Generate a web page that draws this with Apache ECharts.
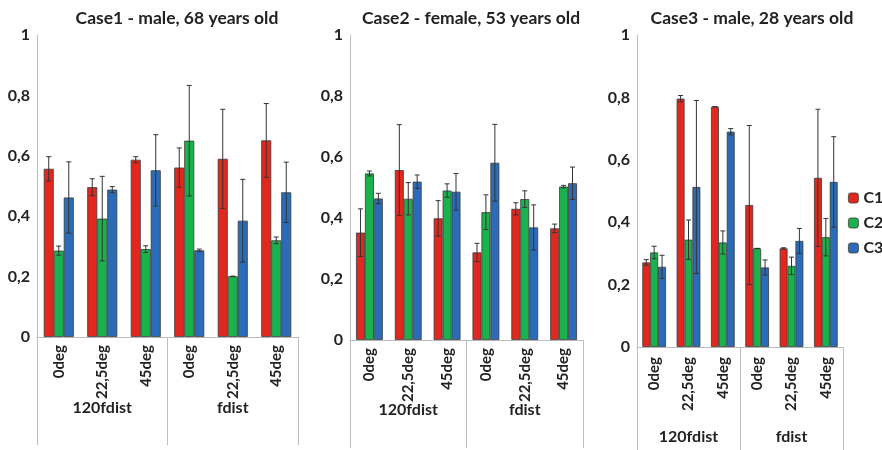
<!DOCTYPE html>
<html><head><meta charset="utf-8">
<script src="https://cdn.jsdelivr.net/npm/echarts@6/dist/echarts.min.js"></script>
<style>html,body{margin:0;padding:0;background:#fff}#c{width:882px;height:450px}</style>
</head><body><div id="c"></div>
<script>
const categories = ['0deg','22,5deg','45deg','0deg','22,5deg','45deg'];
const groups = ['120fdist','fdist'];
const titles = ['Case1 - male, 68 years old','Case2 - female, 53 years old','Case3 - male, 28 years old'];
const seriesNames = ['C1','C2','C3'];
const yTicks = [0,0.2,0.4,0.6,0.8,1];

const case1C1 = [0.557,0.496,0.587,0.561,0.590,0.651];
const case1C2 = [0.286,0.392,0.291,0.650,0.201,0.320];
const case1C3 = [0.462,0.488,0.552,0.287,0.385,0.479];
const case1C1Err = [0.040,0.028,0.010,0.065,0.164,0.122];
const case1C2Err = [0.015,0.140,0.011,0.183,0.000,0.011];
const case1C3Err = [0.118,0.010,0.118,0.004,0.137,0.100];

const case2C1 = [0.352,0.557,0.399,0.287,0.430,0.366];
const case2C2 = [0.546,0.463,0.490,0.419,0.462,0.503];
const case2C3 = [0.464,0.519,0.486,0.581,0.369,0.514];
const case2C1Err = [0.078,0.149,0.058,0.030,0.020,0.014];
const case2C2Err = [0.008,0.053,0.022,0.057,0.027,0.004];
const case2C3Err = [0.017,0.022,0.060,0.126,0.074,0.053];

const case3C1 = [0.271,0.796,0.770,0.455,0.316,0.542];
const case3C2 = [0.303,0.344,0.335,0.316,0.260,0.352];
const case3C3 = [0.257,0.513,0.690,0.255,0.340,0.529];
const case3C1Err = [0.009,0.010,0.000,0.255,0.002,0.220];
const case3C2Err = [0.020,0.063,0.037,0.000,0.028,0.060];
const case3C3Err = [0.037,0.277,0.010,0.024,0.040,0.145];

const colors = ['#e2271f','#1bb24d','#2b6cb9'];
const FONT = 'Lato';
const BAR_FRAC = 0.23;

const panels = [
  {vals:[case1C1,case1C2,case1C3], errs:[case1C1Err,case1C2Err,case1C3Err], left:37, width:261, top:35, height:302, tick:108, gmargin:63, cmargin:8, tx:177},
  {vals:[case2C1,case2C2,case2C3], errs:[case2C1Err,case2C2Err,case2C3Err], left:350, width:233, top:35, height:305, tick:108, gmargin:62, cmargin:8, tx:471},
  {vals:[case3C1,case3C2,case3C3], errs:[case3C1Err,case3C2Err,case3C3Err], left:637, width:206, top:35, height:312, tick:104, gmargin:82, cmargin:10, tx:752}
];

const grid = [], xAxis = [], yAxis = [], series = [], graphic = [];
const axisColor = '#bdbdbd';

panels.forEach((p, k) => {
  grid.push({left:p.left, top:p.top, width:p.width, height:p.height, containLabel:false});
  graphic.push({type:'text', x:p.tx, y:9, style:{text:titles[k], textAlign:'center', textVerticalAlign:'top',
    fontFamily:FONT, fontWeight:'bold', fontSize:17.5, fill:'#222'}});
  xAxis.push({type:'category', gridIndex:k, data:categories, position:'bottom',
    axisLine:{show:true, lineStyle:{color:axisColor}}, axisTick:{show:false},
    axisLabel:{rotate:90, margin:p.cmargin, fontFamily:FONT, fontWeight:'bold', fontSize:15, color:'#222'}});
  xAxis.push({type:'category', gridIndex:k, data:groups, position:'bottom',
    axisLine:{show:false}, axisTick:{show:true, length:p.tick, lineStyle:{color:axisColor}},
    axisLabel:{margin:p.gmargin, fontFamily:FONT, fontWeight:'bold', fontSize:16, color:'#222'}});
  yAxis.push({type:'value', gridIndex:k, min:0, max:1, interval:0.2,
    axisLine:{show:true, lineStyle:{color:axisColor}}, axisTick:{show:false}, splitLine:{show:false},
    axisLabel:{margin:7, fontFamily:FONT, fontWeight:'bold', fontSize:16, color:'#222',
      formatter: v => String(Math.round(v*10)/10).replace('.', ',')}});
  for (let s = 0; s < 3; s++) {
    series.push({type:'bar', name:seriesNames[s], xAxisIndex:2*k, yAxisIndex:k, data:p.vals[s],
      barWidth:(BAR_FRAC*100)+'%', barGap:'0%',
      itemStyle:{color:colors[s], borderColor:'#3a3a3a', borderWidth:0.8}});
  }
  for (let s = 0; s < 3; s++) {
    const off = s - 1;
    series.push({type:'custom', name:'err'+k+s, xAxisIndex:2*k, yAxisIndex:k, z:5,
      data:p.vals[s].map((v,i) => [i, v, p.errs[s][i]]),
      renderItem:(params, api) => {
        const i = api.value(0), v = api.value(1), e = api.value(2);
        const band = api.size([1,0])[0];
        const x = api.coord([i, v])[0] + off*band*BAR_FRAC;
        const yt = api.coord([i, v+e])[1], yb = api.coord([i, v-e])[1];
        const st = {stroke:'#333', lineWidth:1};
        return {type:'group', children:[
          {type:'line', shape:{x1:x, y1:yt, x2:x, y2:yb}, style:st},
          {type:'line', shape:{x1:x-2.5, y1:yt, x2:x+2.5, y2:yt}, style:st},
          {type:'line', shape:{x1:x-2.5, y1:yb, x2:x+2.5, y2:yb}, style:st}
        ]};
      }});
  }
});

const chart = echarts.init(document.getElementById('c'));
chart.setOption({
  animation:false,
  graphic,
  legend:{data:seriesNames, orient:'vertical', left:843, top:185, itemWidth:10, itemHeight:10, itemGap:9,
    textStyle:{fontFamily:FONT, fontWeight:'bold', fontSize:16, color:'#222'},
    itemStyle:{borderColor:'#3a3a3a', borderWidth:0.8}},
  grid, xAxis, yAxis, series
});
</script></body></html>
